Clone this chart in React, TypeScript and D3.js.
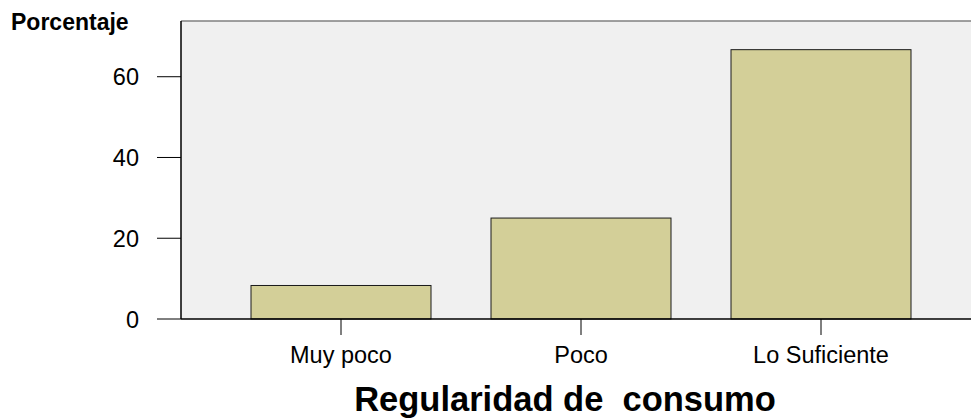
import React from "react";
import * as d3 from "d3";

const categories = ["Muy poco", "Poco", "Lo Suficiente"];
const values = [8.3, 25.0, 66.7];
const yTicks = [0, 20, 40, 60];
const yLabel = "Porcentaje";
const xLabel = "Regularidad de  consumo";

export default function App() {
  const W = 971, H = 418;
  const left = 181, right = 981, top = 21, bottom = 319;
  // band layout: step 240, bar width 180
  const x = d3
    .scaleBand<string>()
    .domain(categories)
    .range([left, right])
    .paddingInner(0.25)
    .paddingOuter(7 / 24);
  const barW = x.bandwidth();
  const cx = (c: string) => (x(c) as number) + barW / 2;
  const y = d3.scaleLinear().domain([0, 73.8]).range([bottom, top]);
  const font = "'Liberation Sans', Arial, sans-serif";
  return (
    <svg width={W} height={H} style={{ position: "absolute", left: 0, top: 0, fontFamily: font }}>
      <rect x={0} y={0} width={W} height={H} fill="#ffffff" />
      <rect x={left} y={top} width={right - left} height={bottom - top} fill="#f0f0f0" />
      <line x1={left} x2={right} y1={top} y2={top} stroke="#808080" strokeWidth={1.5} />
      {categories.map((c, i) => (
        <rect
          key={c}
          x={x(c)}
          y={y(values[i])}
          width={barW}
          height={bottom - y(values[i])}
          fill="#d3cf98"
          stroke="#1a1a1a"
          strokeWidth={1}
        />
      ))}
      <line x1={left} x2={left} y1={top} y2={bottom} stroke="#000" strokeWidth={1.5} />
      <line x1={left} x2={right} y1={bottom} y2={bottom} stroke="#000" strokeWidth={1.5} />
      {yTicks.map((t) => (
        <g key={t}>
          <line x1={157} x2={left} y1={y(t)} y2={y(t)} stroke="#000" strokeWidth={1} />
          <text x={139} y={y(t) + 8.5} textAnchor="end" fontSize={23.5} fill="#000">{t}</text>
        </g>
      ))}
      {categories.map((c) => (
        <g key={c}>
          <line x1={cx(c)} x2={cx(c)} y1={bottom} y2={bottom + 16} stroke="#000" strokeWidth={1} />
          <text x={cx(c)} y={363} textAnchor="middle" fontSize={23.5} fill="#000">{c}</text>
        </g>
      ))}
      <text x={11} y={30} fontSize={23} fontWeight="bold" fill="#000">{yLabel}</text>
      <text x={565} y={411} textAnchor="middle" fontSize={34.5} fontWeight="bold" fill="#000" style={{ whiteSpace: "pre" }}>{xLabel}</text>
    </svg>
  );
}
